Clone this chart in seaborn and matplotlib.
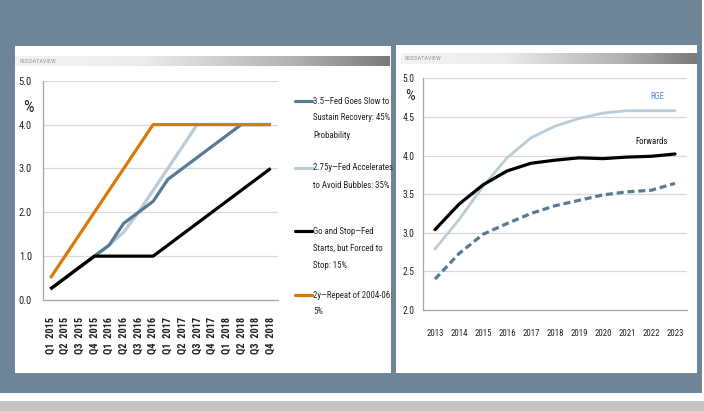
import numpy as np
import pandas as pd
import matplotlib
matplotlib.use("Agg")
import matplotlib.pyplot as plt
from matplotlib import font_manager as fm
from matplotlib.lines import Line2D
from matplotlib.patches import Rectangle
from matplotlib.colors import LinearSegmentedColormap
import seaborn as sns

# ---- Fed funds scenarios (quarterly, %) ----
quarters = ["Q1  2015", "Q2  2015", "Q3  2015", "Q4  2015",
            "Q1  2016", "Q2  2016", "Q3  2016", "Q4  2016",
            "Q1  2017", "Q2  2017", "Q3  2017", "Q4  2017",
            "Q1  2018", "Q2  2018", "Q3  2018", "Q4  2018"]
fed_slow = [0.25, 0.5, 0.75, 1.0, 1.25, 1.75, 2.0, 2.25,
            2.75, 3.0, 3.25, 3.5, 3.75, 4.0, 4.0, 4.0]
fed_accel = [0.25, 0.5, 0.75, 1.0, 1.25, 1.55, 2.0, 2.5,
             3.0, 3.5, 4.0, 4.0, 4.0, 4.0, 4.0, 4.0]
go_stop = [0.25, 0.5, 0.75, 1.0, 1.0, 1.0, 1.0, 1.0,
           1.25, 1.5, 1.75, 2.0, 2.25, 2.5, 2.75, 3.0]
repeat_0406 = [0.5, 1.0, 1.5, 2.0, 2.5, 3.0, 3.5, 4.0,
               4.0, 4.0, 4.0, 4.0, 4.0, 4.0, 4.0, 4.0]
scenario_labels = [
    "3.5\u2014Fed Goes Slow to\nSustain Recovery: 45%\nProbability",
    "2.75y\u2014Fed Accelerates\nto Avoid Bubbles: 35%",
    "Go and Stop\u2014Fed\nStarts, but Forced to\nStop: 15%",
    "2y\u2014Repeat of 2004-06:\n5%",
]

# ---- Long-run yield path (annual, %) ----
years = ["2013", "2014", "2015", "2016", "2017", "2018",
         "2019", "2020", "2021", "2022", "2023"]
rge = [2.79, 3.17, 3.60, 3.97, 4.23, 4.38, 4.48, 4.55, 4.58, 4.58, 4.58]
forwards = [3.04, 3.37, 3.62, 3.80, 3.90, 3.94, 3.97, 3.96, 3.98, 3.99, 4.02]
lower_path = [2.40, 2.73, 2.98, 3.12, 3.25, 3.35, 3.42, 3.49, 3.53, 3.55, 3.64]

STEEL = "#577b94"
LIGHT = "#b9ccd8"
BLACK = "#000000"
ORANGE = "#d97a08"
GRID = "#d9d9d9"
SPINE = "#a6a6a6"

sns.set_theme(style="white")

# pick a regular-weight narrow face for the compact labels
entries = fm.fontManager.ttflist


def is_regular(f):
    return str(f.weight).lower() in ("400", "normal", "regular", "book") and f.style == "normal"


family, stretch = None, "normal"
if any(f.name == "Liberation Sans Narrow" for f in entries):
    family = "Liberation Sans Narrow"
else:
    wanted = ["Noto Sans Condensed", "Noto Sans SemiCondensed", "Open Sans Condensed",
              "Roboto Condensed", "DejaVu Sans Condensed"]
    names = {f.name for f in entries if is_regular(f)}
    for w in wanted:
        if w in names:
            family = w
            break
    if family is None:
        # condensed faces registered under the base family name
        for base in ("Noto Sans", "Open Sans", "DejaVu Sans", "Roboto"):
            for st in ("condensed", "semi-condensed"):
                if any(f.name == base and f.stretch == st and is_regular(f) for f in entries):
                    family, stretch = base, st
                    break
            if family:
                break
if family is None:
    family = "Roboto"
plt.rcParams["font.family"] = [family, "DejaVu Sans"]
plt.rcParams["font.stretch"] = stretch
plt.rcParams["font.weight"] = "normal"

W, H = 704, 411
fig = plt.figure(figsize=(W / 100, H / 100), dpi=100)
fig.patch.set_facecolor("white")
renderer = fig.canvas.get_renderer()


def fx(px):
    return px / W


def fy(py):
    return 1 - py / H


def size_for(sample, target_px, ref=10.0, cap=9.0, **kw):
    t = fig.text(0, 0, sample, fontsize=ref, **kw)
    w = t.get_window_extent(renderer).width
    t.remove()
    return min(cap, ref * target_px / w)


def frect(x0, y0, x1, y1, **kw):
    fig.add_artist(Rectangle((fx(x0), fy(y1)), fx(x1) - fx(x0), fy(y0) - fy(y1),
                             transform=fig.transFigure, **kw))


LEGEND_FS = size_for("Sustain Recovery: 45%", 77, cap=8.5)
QTR_FS = size_for("Q1  2015", 52, cap=7.5, fontweight="bold")
YEAR_FS = size_for("2013", 17, cap=7.5)
YTICK_FS = size_for("5.0", 13, cap=8.5)
RTICK_FS = size_for("5.0", 12, cap=8.5)
NOTE_FS = size_for("Forwards", 32, cap=8.5)

# backdrop and panels
frect(0, 0, 702, 393, facecolor="#6e8597", edgecolor="none", zorder=-10)
frect(0, 401, 704, 411, facecolor="#c4c4c4", edgecolor="none", zorder=-10)
frect(15, 46, 391, 373, facecolor="white", edgecolor="none", zorder=-9)
frect(396, 45, 697, 373, facecolor="white", edgecolor="none", zorder=-9)

# header bars
hdr_cmap = LinearSegmentedColormap.from_list(
    "hdr", [(0, "#f4f4f4"), (0.35, "#ebebeb"), (0.75, "#b0b0b0"), (1, "#7a7a7a")])
grad = np.linspace(0, 1, 256)[None, :]
for (x0, y0, x1, y1) in [(15, 56, 389, 66), (401, 53, 697, 64)]:
    hax = fig.add_axes([fx(x0), fy(y1), fx(x1) - fx(x0), fy(y0) - fy(y1)])
    hax.imshow(grad, aspect="auto", cmap=hdr_cmap, extent=[0, 1, 0, 1])
    hax.set_axis_off()
    hax.text(0.012, 0.5, "RGEDATAVIEW", fontsize=4.5, color="#9a9a9a",
             va="center", ha="left", transform=hax.transAxes)

# ---------------- left chart ----------------
axL = fig.add_axes([fx(43), fy(300), fx(278) - fx(43), fy(80.7) - fy(300)])
xq = np.arange(len(quarters))
left_df = pd.DataFrame({"q": xq, "slow": fed_slow, "accel": fed_accel,
                        "gostop": go_stop, "repeat": repeat_0406})
series_left = {"accel": LIGHT, "slow": STEEL, "gostop": BLACK, "repeat": ORANGE}
for col, c in series_left.items():
    sns.lineplot(data=left_df, x="q", y=col, ax=axL, color=c, linewidth=2.3,
                 solid_capstyle="butt")

axL.set_xlim(-0.5, len(quarters) - 0.5)
axL.set_ylim(0, 5)
axL.set_yticks(np.arange(0, 5.01, 1.0))
axL.set_yticklabels([f"{v:.1f}" for v in np.arange(0, 5.01, 1.0)])
axL.set_xticks(np.arange(-0.5, len(quarters), 1.0))
axL.set_xticklabels([])
axL.set_xticks(xq, minor=True)
axL.set_xticklabels(quarters, minor=True, rotation=90, fontsize=QTR_FS,
                    fontweight="bold", color="#222222")
axL.tick_params(axis="x", which="major", length=4, color=SPINE, width=0.8, direction="out")
axL.tick_params(axis="x", which="minor", length=0, pad=12)
axL.tick_params(axis="y", length=3, color=SPINE, width=0.8, labelsize=YTICK_FS,
                labelcolor="#222222", pad=5, direction="out")
axL.set_xlabel("")
axL.set_ylabel("")
for y in np.arange(1, 5.01, 1.0):
    axL.axhline(y, color=GRID, linewidth=0.9, zorder=0)
for s in ["top", "right"]:
    axL.spines[s].set_visible(False)
for s in ["left", "bottom"]:
    axL.spines[s].set_color(SPINE)
    axL.spines[s].set_linewidth(0.9)
fig.text(fx(28), fy(107), "%", fontsize=12, ha="center", va="center", color="#222222")

# legend, in the order the scenarios are described
legend_cols = ["slow", "accel", "gostop", "repeat"]
legend_rows = [101, 168, 231, 295]
for col, lab, yrow in zip(legend_cols, scenario_labels, legend_rows):
    fig.add_artist(Line2D([fx(295), fx(312)], [fy(yrow), fy(yrow)],
                          transform=fig.transFigure, color=series_left[col], linewidth=2.3))
    for k, line in enumerate(lab.split("\n")):
        fig.text(fx(313), fy(yrow + 17 * k), line, fontsize=LEGEND_FS,
                 ha="left", va="center", color="#222222")

# ---------------- right chart ----------------
axR = fig.add_axes([fx(423), fy(310), fx(687) - fx(423), fy(78.3) - fy(310)])
xy = np.arange(len(years))
right_df = pd.DataFrame({"yr": xy, "rge": rge, "fwd": forwards, "low": lower_path})
sns.lineplot(data=right_df, x="yr", y="low", ax=axR, color=STEEL, linewidth=2.3)
axR.lines[-1].set_dashes([2.2, 1.2])
sns.lineplot(data=right_df, x="yr", y="rge", ax=axR, color=LIGHT, linewidth=2.0)
sns.lineplot(data=right_df, x="yr", y="fwd", ax=axR, color=BLACK, linewidth=2.3)

axR.set_xlim(-0.5, len(years) - 0.5)
axR.set_ylim(2, 5)
yt = np.arange(2.0, 5.01, 0.5)
axR.set_yticks(yt)
axR.set_yticklabels([f"{v:.1f}" for v in yt])
axR.set_xticks(np.arange(-0.5, len(years), 1.0))
axR.set_xticklabels([])
axR.set_xticks(xy, minor=True)
axR.set_xticklabels(years, minor=True, fontsize=YEAR_FS, color="#222222")
axR.tick_params(axis="x", which="major", length=4, color=SPINE, width=0.8, direction="out")
axR.tick_params(axis="x", which="minor", length=0, pad=14)
axR.tick_params(axis="y", length=3, color=SPINE, width=0.8, labelsize=RTICK_FS,
                labelcolor="#222222", pad=3, direction="out")
axR.set_xlabel("")
axR.set_ylabel("")
for y in yt[1:]:
    axR.axhline(y, color=GRID, linewidth=0.9, zorder=0)
for s in ["top", "right"]:
    axR.spines[s].set_visible(False)
for s in ["left", "bottom"]:
    axR.spines[s].set_color(SPINE)
    axR.spines[s].set_linewidth(0.9)
fig.text(fx(410), fy(96), "%", fontsize=11, ha="center", va="center", color="#222222")

axR.text(9.25, 4.76, "RGE", fontsize=NOTE_FS, color="#5b8bc8", ha="center", va="center")
axR.text(9.0, 4.18, "Forwards", fontsize=NOTE_FS, color="#111111", ha="center", va="center")

fig.savefig("out.png", dpi=100)
